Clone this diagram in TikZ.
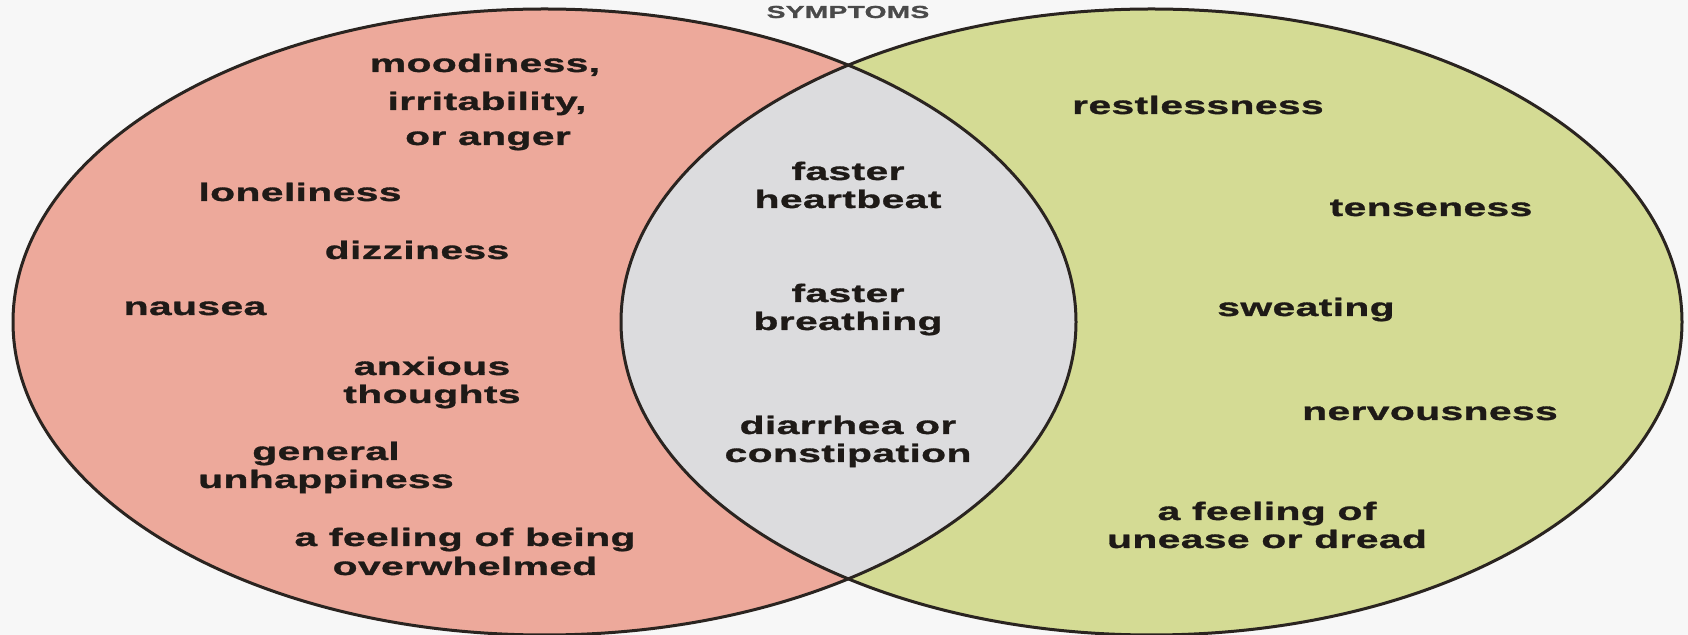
\documentclass[tikz,border=0pt]{standalone}
\usepackage{fontspec}
\newfontfamily\vennfont{Liberation Sans}[FakeStretch=1.62, LetterSpace=1.5, BoldFeatures={FakeBold=1.2}]
\definecolor{bgc}{HTML}{F7F7F7}
\definecolor{leftc}{HTML}{EDA99B}
\definecolor{rightc}{HTML}{D4DB94}
\definecolor{midc}{HTML}{DCDCDE}
\definecolor{linec}{HTML}{2A2420}
\definecolor{txtc}{HTML}{1E1A17}
\definecolor{ttlc}{HTML}{4A4A4A}
\begin{document}
\begin{tikzpicture}[x=0.5pt,y=-0.5pt,
  lbl/.style={font=\vennfont\bfseries\fontsize{12.6}{14}\selectfont, text=txtc, inner sep=0pt, anchor=base},
  ttl/.style={font=\vennfont\fontsize{8.7}{10}\selectfont, text=ttlc, inner sep=0pt, anchor=base},
  venn/.style={draw=linec, line width=1.5pt}]
\useasboundingbox (0,0) rectangle (1688,635);
\fill[bgc] (0,0) rectangle (1688,635);
% sets
\fill[leftc] (544.5,322) ellipse [x radius=531.5, y radius=313];
\fill[rightc] (1151.5,322) ellipse [x radius=530.5, y radius=313];
\begin{scope}
  \clip (544.5,322) ellipse [x radius=531.5, y radius=313];
  \fill[midc] (1151.5,322) ellipse [x radius=530.5, y radius=313];
\end{scope}
\draw[venn] (544.5,322) ellipse [x radius=531.5, y radius=313];
\draw[venn] (1151.5,322) ellipse [x radius=530.5, y radius=313];
% title
\node[ttl] (title) at (848,18) {\bfseries SYMPTOMS};
% left set
\node[lbl] (m1) at (485,72) {moodiness,};
\node[lbl] (m2) at (487,110) {irritability,};
\node[lbl] (m3) at (488,145) {or anger};
\node[lbl] (lon) at (300,201) {loneliness};
\node[lbl] (diz) at (417,259) {dizziness};
\node[lbl] (nau) at (195,315) {nausea};
\node[lbl] (anx1) at (432,375) {anxious};
\node[lbl] (anx2) at (432,403) {thoughts};
\node[lbl] (gen1) at (326,460) {general};
\node[lbl] (gen2) at (326,488) {unhappiness};
\node[lbl] (ovw1) at (465,546) {a feeling of being};
\node[lbl] (ovw2) at (465,575) {overwhelmed};
% intersection
\node[lbl] (hb1) at (848,180) {faster};
\node[lbl] (hb2) at (848,208) {heartbeat};
\node[lbl] (br1) at (848,302) {faster};
\node[lbl] (br2) at (848,330) {breathing};
\node[lbl] (dc1) at (848,434) {diarrhea or};
\node[lbl] (dc2) at (848,462) {constipation};
% right set
\node[lbl] (rst) at (1198,114) {restlessness};
\node[lbl] (ten) at (1431,216) {tenseness};
\node[lbl] (swe) at (1306,316) {sweating};
\node[lbl] (ner) at (1430,420) {nervousness};
\node[lbl] (une1) at (1267,520) {a feeling of};
\node[lbl] (une2) at (1267,548) {unease or dread};
\end{tikzpicture}
\end{document}
